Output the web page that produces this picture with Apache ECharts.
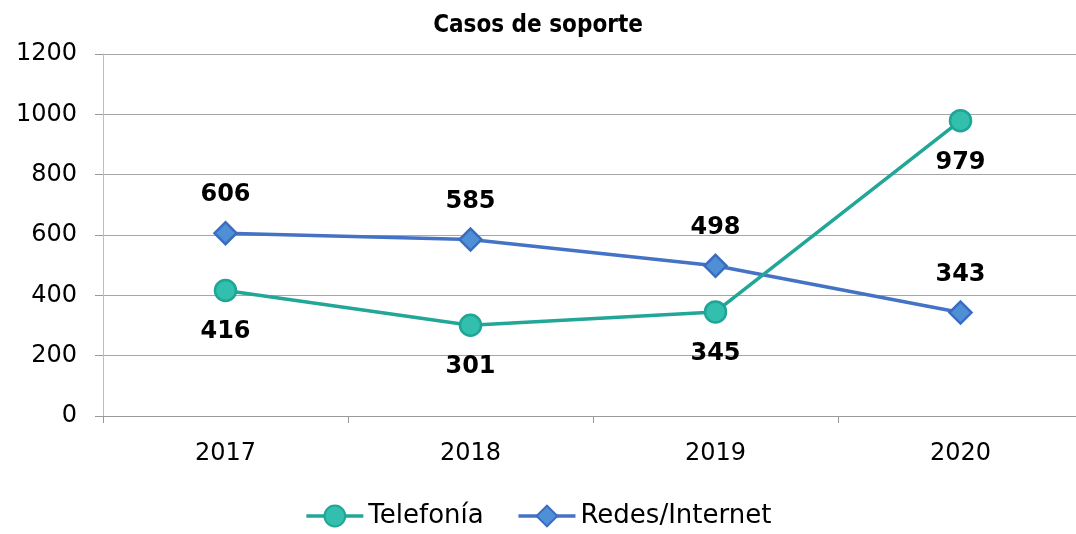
<!DOCTYPE html>
<html>
<head>
<meta charset="utf-8">
<script src="https://cdn.jsdelivr.net/npm/echarts@6/dist/echarts.min.js"></script>
<style>
  html, body { margin: 0; padding: 0; background: #fff; }
  #chart { width: 1076px; height: 534px; }
</style>
</head>
<body>
<div id="chart"></div>
<script>
var years = ["2017", "2018", "2019", "2020"];
var telefonia = [416, 301, 345, 979];
var redes = [606, 585, 498, 343];
var yTicks = [0, 200, 400, 600, 800, 1000, 1200];

var dom = document.getElementById("chart");
var myChart = echarts.init(dom, null, { renderer: "canvas" });

var FONT = "DejaVu Sans, Verdana, sans-serif";

var labelStyle = {
  show: true,
  fontSize: 24,
  fontWeight: "bold",
  color: "#000",
  fontFamily: FONT
};

var option = {
  animation: false,
  title: {
    text: "Casos de soporte",
    left: "center",
    top: 9,
    textStyle: {
      fontSize: 24,
      fontWeight: "bold",
      color: "#000",
      fontFamily: "Liberation Sans Narrow, DejaVu Sans Condensed, sans-serif"
    }
  },
  legend: {
    bottom: 0,
    left: "center",
    itemWidth: 57,
    itemHeight: 26,
    itemGap: 33,
    lineStyle: { width: 3.5 },
    textStyle: {
      fontSize: 26,
      color: "#000",
      fontFamily: FONT
    },
    data: ["Telefonía", "Redes/Internet"]
  },
  grid: {
    left: 103,
    top: 54,
    width: 980,
    height: 362,
    containLabel: false,
    outerBoundsMode: "none"
  },
  xAxis: {
    type: "category",
    data: years,
    boundaryGap: true,
    axisLine: { lineStyle: { color: "#9a9a9a", width: 1 } },
    axisTick: { show: true, length: 7, lineStyle: { color: "#9a9a9a" } },
    axisLabel: {
      fontSize: 24,
      color: "#000",
      margin: 26,
      fontFamily: FONT
    }
  },
  yAxis: {
    type: "value",
    min: yTicks[0],
    max: yTicks[yTicks.length - 1],
    interval: 200,
    axisLine: { show: true, lineStyle: { color: "#bdbdbd", width: 1 } },
    axisTick: { show: true, length: 8, lineStyle: { color: "#9a9a9a" } },
    splitLine: { lineStyle: { color: "#a6a6a6", width: 1 } },
    axisLabel: {
      fontSize: 24,
      color: "#000",
      margin: 26,
      fontFamily: FONT,
      formatter: function (v) { return String(v); }
    }
  },
  series: [
    {
      name: "Telefonía",
      type: "line",
      data: telefonia,
      symbol: "circle",
      symbolSize: 21,
      lineStyle: { color: "#21A697", width: 3.5 },
      itemStyle: { color: "#33BFAE", borderColor: "#1FA595", borderWidth: 2.5 },
      label: Object.assign({ position: "bottom", distance: 18 }, labelStyle),
      z: 3
    },
    {
      name: "Redes/Internet",
      type: "line",
      data: redes,
      symbol: "diamond",
      symbolSize: 22,
      lineStyle: { color: "#4472C4", width: 3.5 },
      itemStyle: { color: "#4F8FD6", borderColor: "#3A6CC0", borderWidth: 2.5 },
      label: Object.assign({ position: "top", distance: 14 }, labelStyle),
      z: 2
    }
  ]
};

myChart.setOption(option);
window.addEventListener("resize", myChart.resize);
</script>
</body>
</html>
